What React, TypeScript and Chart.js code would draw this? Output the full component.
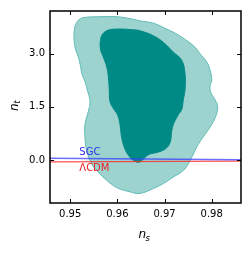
import React, { useEffect, useRef } from "react";
import { Chart, registerables } from "chart.js";

Chart.register(...registerables);

const xMin = 0.94572;
const xMax = 0.98621;
const yMin = -1.215;
const yMax = 4.205;

const xTicks = [0.95, 0.96, 0.97, 0.98];
const yTicks = [0.0, 1.5, 3.0];

// 95% contour (light)
const outerX = [0.95102, 0.95172, 0.95278, 0.95632, 0.95986, 0.96338, 0.96480, 0.96762, 0.97046, 0.97258, 0.97470, 0.97646, 0.97752, 0.97894, 0.97964, 0.98000, 0.97964, 0.97985, 0.98070, 0.98123, 0.98106, 0.98000, 0.97858, 0.97716, 0.97610, 0.97504, 0.97398, 0.97186, 0.96974, 0.96762, 0.96480, 0.96268, 0.95986, 0.95774, 0.95596, 0.95456, 0.95350, 0.95314, 0.95314, 0.95384, 0.95420, 0.95363, 0.95314, 0.95244, 0.95223, 0.95172, 0.95102, 0.95081];
const outerY = [3.786, 3.944, 4.017, 4.044, 4.044, 3.972, 3.925, 3.861, 3.694, 3.556, 3.369, 3.183, 3.000, 2.767, 2.536, 2.258, 2.072, 1.889, 1.703, 1.536, 1.314, 1.000, 0.722, 0.444, 0.167, -0.111, -0.297, -0.483, -0.667, -0.806, -0.944, -0.900, -0.778, -0.575, -0.344, -0.111, 0.258, 0.628, 1.000, 1.369, 1.647, 1.981, 2.211, 2.444, 2.628, 2.906, 3.183, 3.556];

// 68% contour (dark)
const innerX = [0.95632, 0.95668, 0.95774, 0.95986, 0.96338, 0.96480, 0.96762, 0.96974, 0.97186, 0.97364, 0.97434, 0.97434, 0.97398, 0.97364, 0.97292, 0.97186, 0.97152, 0.97116, 0.97010, 0.96834, 0.96692, 0.96586, 0.96516, 0.96444, 0.96353, 0.96268, 0.96162, 0.96092, 0.96056, 0.96003, 0.95929, 0.95844, 0.95829, 0.95808, 0.95774, 0.95702, 0.95647];
const innerY = [3.278, 3.508, 3.647, 3.694, 3.675, 3.647, 3.508, 3.322, 3.044, 2.814, 2.444, 1.981, 1.703, 1.425, 1.278, 1.000, 0.814, 0.489, 0.306, 0.211, 0.167, 0.072, -0.019, -0.067, -0.019, 0.072, 0.306, 0.628, 1.000, 1.278, 1.425, 1.647, 1.981, 2.350, 2.628, 2.906, 3.092];

const sgcX = [0.94572, 0.98621];
const sgcY = [0.047, 0.008];
const lcdmX = [0.94572, 0.98621];
const lcdmY = [-0.053, -0.033];

const lineLabels = ["SGC", "ΛCDM"];
const lineLabelX = [0.95193, 0.95193];
const lineLabelY = [0.211, -0.25];
const lineLabelColors = ["#3030f0", "#e82020"];

const toPoints = (xs: number[], ys: number[], close: boolean) => {
  const pts = xs.map((x, i) => ({ x, y: ys[i] }));
  if (close) pts.push({ x: xs[0], y: ys[0] });
  return pts;
};

const decorPlugin = {
  id: "decor",
  afterDraw(chart: any) {
    const { ctx, chartArea } = chart;
    const xs = chart.scales.x;
    const ys = chart.scales.y;
    const { left, right, top, bottom } = chartArea;
    ctx.save();
    // line labels
    ctx.font = "10px 'DejaVu Sans'";
    ctx.textBaseline = "middle";
    ctx.textAlign = "left";
    lineLabels.forEach((t, i) => {
      ctx.fillStyle = lineLabelColors[i];
      ctx.fillText(t, xs.getPixelForValue(lineLabelX[i]), ys.getPixelForValue(lineLabelY[i]));
    });
    // inward ticks
    ctx.strokeStyle = "#000";
    ctx.lineWidth = 1;
    const tl = 4;
    ctx.beginPath();
    xTicks.forEach((v) => {
      const px = Math.round(xs.getPixelForValue(v)) + 0.5;
      ctx.moveTo(px, bottom);
      ctx.lineTo(px, bottom - tl);
      ctx.moveTo(px, top);
      ctx.lineTo(px, top + tl);
    });
    yTicks.forEach((v) => {
      const py = Math.round(ys.getPixelForValue(v)) + 0.5;
      ctx.moveTo(left, py);
      ctx.lineTo(left + tl, py);
      ctx.moveTo(right, py);
      ctx.lineTo(right - tl, py);
    });
    ctx.stroke();
    // frame
    ctx.lineWidth = 1.5;
    ctx.strokeRect(left, top, right - left, bottom - top);
    // axis titles
    ctx.fillStyle = "#000";
    ctx.textBaseline = "alphabetic";
    ctx.textAlign = "left";
    ctx.font = "italic 12px 'DejaVu Sans'";
    ctx.fillText("n", 138.5, 238);
    ctx.font = "italic 8.5px 'DejaVu Sans'";
    ctx.fillText("s", 145.5, 240.5);
    ctx.translate(17.5, 111);
    ctx.rotate(-Math.PI / 2);
    ctx.font = "italic 12px 'DejaVu Sans'";
    ctx.fillText("n", 0, 0);
    ctx.font = "italic 8.5px 'DejaVu Sans'";
    ctx.fillText("t", 7.3, 2.3);
    ctx.restore();
  },
};

export default function App() {
  const ref = useRef<HTMLCanvasElement | null>(null);
  useEffect(() => {
    document.body.style.margin = "0";
    if (!ref.current) return;
    const chart = new Chart(ref.current, {
      type: "scatter",
      data: {
        datasets: [
          {
            label: "SGC",
            type: "line",
            data: toPoints(sgcX, sgcY, false),
            borderColor: "rgba(60,60,255,0.75)",
            borderWidth: 1.6,
            pointRadius: 0,
            fill: false,
            order: 0,
          } as any,
          {
            label: "LCDM",
            type: "line",
            data: toPoints(lcdmX, lcdmY, false),
            borderColor: "rgba(255,40,40,0.8)",
            borderWidth: 1.2,
            pointRadius: 0,
            fill: false,
            order: 1,
          } as any,
          {
            label: "68%",
            type: "line",
            data: toPoints(innerX, innerY, true),
            borderColor: "#008a85",
            backgroundColor: "#008a85",
            borderWidth: 1,
            pointRadius: 0,
            tension: 0.4,
            fill: "shape",
            order: 2,
          } as any,
          {
            label: "95%",
            type: "line",
            data: toPoints(outerX, outerY, true),
            borderColor: "#5ebcb6",
            backgroundColor: "#9cd3cf",
            borderWidth: 1,
            pointRadius: 0,
            tension: 0.4,
            fill: "shape",
            order: 3,
          } as any,
        ],
      },
      options: {
        responsive: false,
        animation: false,
        events: [],
        layout: { padding: { top: 8, right: 8, left: 0, bottom: 0 } },
        plugins: { legend: { display: false }, tooltip: { enabled: false } },
        scales: {
          x: {
            type: "linear",
            min: xMin,
            max: xMax,
            afterBuildTicks: (s: any) => {
              s.ticks = xTicks.map((v) => ({ value: v }));
            },
            afterFit: (s: any) => {
              s.height = 50;
            },
            ticks: {
              padding: 5,
              color: "#000",
              font: { family: "'DejaVu Sans'", size: 10 },
              callback: (v: any) => Number(v).toFixed(2),
              maxRotation: 0,
            },
            grid: { display: false, drawTicks: false },
            border: { display: false },
          },
          y: {
            type: "linear",
            min: yMin,
            max: yMax,
            afterBuildTicks: (s: any) => {
              s.ticks = yTicks.map((v) => ({ value: v }));
            },
            afterFit: (s: any) => {
              s.width = 50;
            },
            ticks: {
              padding: 5,
              color: "#000",
              font: { family: "'DejaVu Sans'", size: 10 },
              callback: (v: any) => Number(v).toFixed(1),
            },
            grid: { display: false, drawTicks: false },
            border: { display: false },
          },
        },
      },
      plugins: [decorPlugin],
    });
    return () => chart.destroy();
  }, []);
  return (
    <div style={{ width: 249, height: 253 }}>
      <canvas ref={ref} width={249} height={253} style={{ width: 249, height: 253, display: "block" }} />
    </div>
  );
}
